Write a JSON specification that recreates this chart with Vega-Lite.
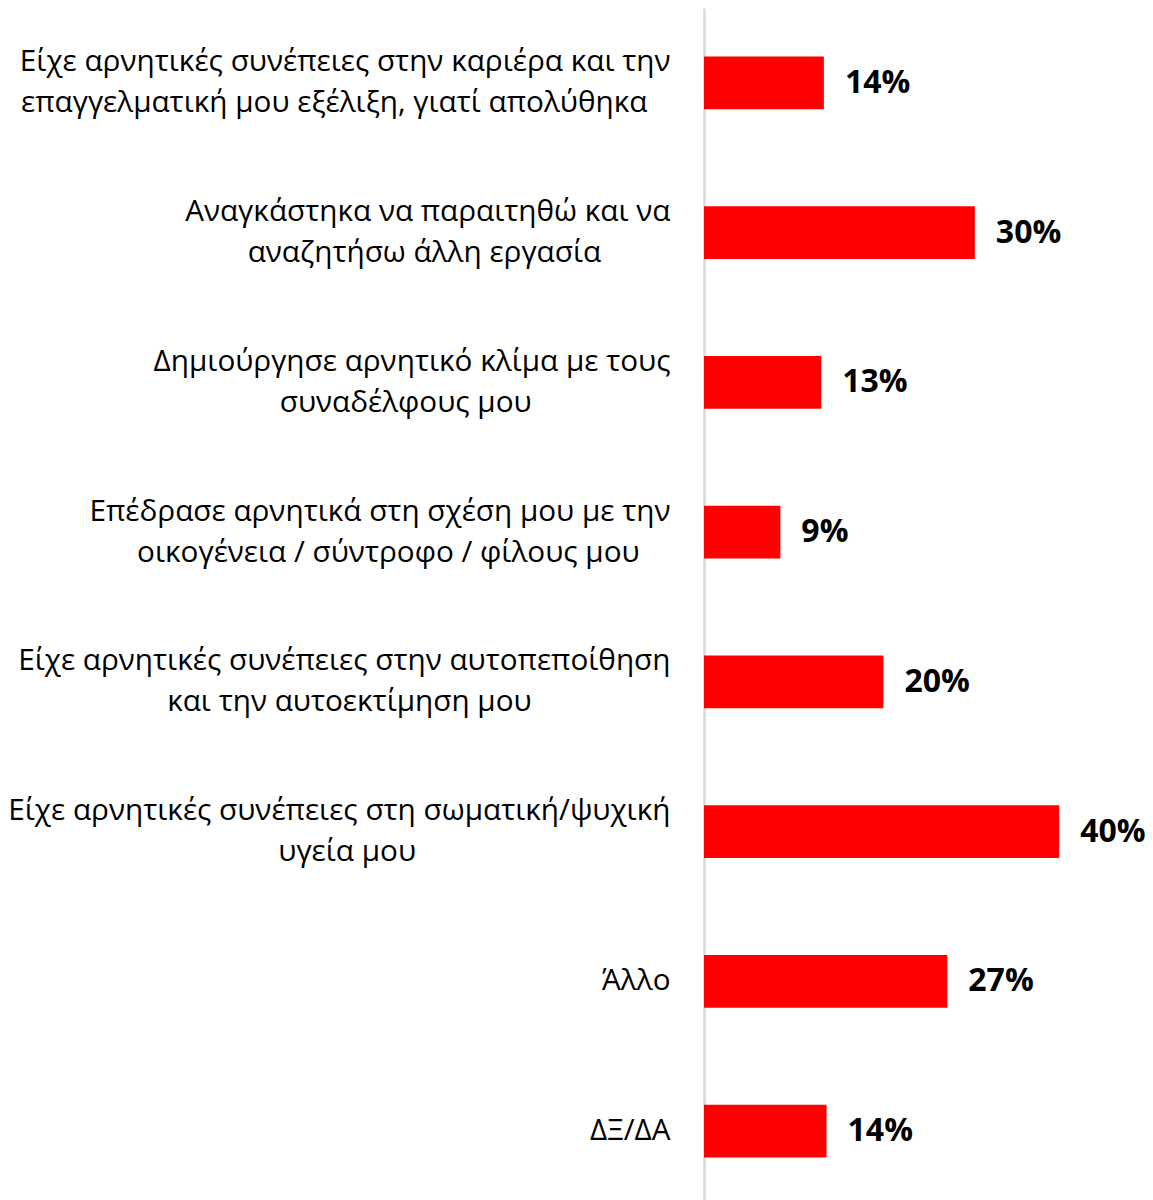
{
  "$schema": "https://vega.github.io/schema/vega-lite/v6.json",
  "width": 444,
  "height": 1198,
  "autosize": {"type": "none"},
  "padding": {"left": 704, "top": 8, "right": 5, "bottom": 0},
  "background": "white",
  "config": {"view": {"stroke": null}, "font": "Open Sans"},
  "data": {
    "values": [
      {"label": "Είχε αρνητικές συνέπειες στην καριέρα και την|επαγγελματική μου εξέλιξη, γιατί απολύθηκα", "value": 13.5, "pct": "14%"},
      {"label": "Αναγκάστηκα να παραιτηθώ και να|αναζητήσω άλλη εργασία", "value": 30.5, "pct": "30%"},
      {"label": "Δημιούργησε αρνητικό κλίμα με τους|συναδέλφους μου", "value": 13.2, "pct": "13%"},
      {"label": "Επέδρασε αρνητικά στη σχέση μου με την|οικογένεια / σύντροφο / φίλους μου", "value": 8.6, "pct": "9%"},
      {"label": "Είχε αρνητικές συνέπειες στην αυτοπεποίθηση|και την αυτοεκτίμηση μου", "value": 20.2, "pct": "20%"},
      {"label": "Είχε αρνητικές συνέπειες στη σωματική/ψυχική|υγεία μου", "value": 40.0, "pct": "40%"},
      {"label": "Άλλο", "value": 27.4, "pct": "27%"},
      {"label": "ΔΞ/ΔΑ", "value": 13.8, "pct": "14%"}
    ]
  },
  "encoding": {
    "y": {
      "field": "label",
      "type": "nominal",
      "sort": null,
      "scale": {"paddingInner": 0.649, "paddingOuter": 0.3245},
      "axis": {
        "title": null,
        "domain": true,
        "domainColor": "#d9d9d9",
        "domainWidth": 2.5,
        "ticks": false,
        "grid": false,
        "labelPadding": 34,
        "labelFont": "Open Sans",
        "labelFontSize": 29.7,
        "labelColor": "#000000",
        "labelLimit": 900,
        "labelOverlap": false,
        "labelAlign": "right",
        "labelBaseline": "middle",
        "labelLineHeight": 41,
        "labelOffset": {"condition": {"test": "indexof(datum.value,'|') >= 0", "value": -20.5}, "value": 0},
        "labelExpr": "indexof(datum.label,'|') < 0 ? datum.label : [split(datum.label,'|')[0], pad(split(datum.label,'|')[1], length(split(datum.label,'|')[1]) + round(0.955*(length(split(datum.label,'|')[0]) - length(split(datum.label,'|')[1]))), '\u00a0', 'right') + '\u200b']"
      }
    }
  },
  "layer": [
    {
      "mark": {"type": "bar", "color": "#ff0000"},
      "encoding": {
        "x": {"field": "value", "type": "quantitative", "scale": {"domain": [0, 50]}, "axis": null}
      }
    },
    {
      "mark": {"type": "text", "align": "left", "baseline": "middle", "dx": 21, "font": "Open Sans", "fontWeight": "bold", "fontSize": 32, "color": "#000000"},
      "encoding": {
        "x": {"field": "value", "type": "quantitative"},
        "text": {"field": "pct"}
      }
    }
  ]
}
